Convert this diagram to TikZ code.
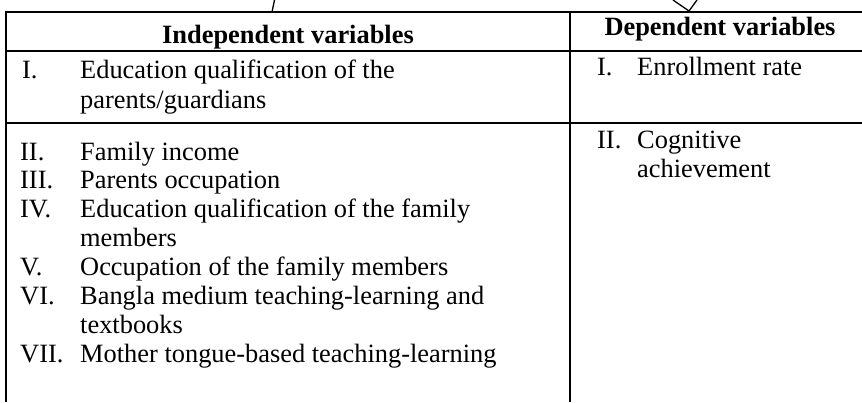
\documentclass[tikz,border=0pt]{standalone}
\usepackage{fontspec}
\setmainfont{Liberation Serif}
\begin{document}
\begin{tikzpicture}[x=1pt,y=-1pt,
  rule/.style={line width=2pt},
  thin/.style={line width=1.3pt},
  hdr/.style={font=\fontsize{26.4}{30}\selectfont\bfseries, anchor=base, inner sep=0pt},
  num/.style={font=\fontsize{26.4}{30}\selectfont, anchor=base west, inner sep=0pt},
  txt/.style={font=\fontsize{26.4}{30}\selectfont, anchor=base west, inner sep=0pt}]
\useasboundingbox (0,0) rectangle (862,402);
% table rules
\coordinate (tl) at (6,12);
\coordinate (tr) at (862,12);
\coordinate (hr) at (862,51);
\coordinate (rr) at (862,123);
\coordinate (bl) at (6,402);
\coordinate (mt) at (570,12);
\coordinate (mb) at (570,402);
\draw[rule] (5,12) -- (tr);
\draw[rule] (5,51) -- (hr);
\draw[rule] (5,123) -- (rr);
\draw[rule] (tl) -- (bl);
\draw[rule] (mt) -- (mb);
% headers
\node[hdr] (h1) at (288,43) {Independent variables};
\node[hdr] (h2) at (720,35) {Dependent variables};
% row 1 left
\node[num] (n1) at (22,78) {I.};
\node[txt] (t1) at (80,78) {Education qualification of the};
\node[txt] (t1b) at (80,108) {parents/guardians};
% row 1 right
\node[num] (d1) at (597,75) {I.};
\node[txt] (e1) at (637,75) {Enrollment rate};
% row 2 left
\node[num] (n2) at (20,160) {II.};
\node[txt] (t2) at (80,160) {Family income};
\node[num] (n3) at (20,188.9) {III.};
\node[txt] (t3) at (80,188.9) {Parents occupation};
\node[num] (n4) at (20,217.8) {IV.};
\node[txt] (t4) at (80,217.8) {Education qualification of the family};
\node[txt] (t4b) at (80,246.7) {members};
\node[num] (n5) at (20,275.6) {V.};
\node[txt] (t5) at (80,275.6) {Occupation of the family members};
\node[num] (n6) at (20,304.5) {VI.};
\node[txt] (t6) at (80,304.5) {Bangla medium teaching-learning and};
\node[txt] (t6b) at (80,333.4) {textbooks};
\node[num] (n7) at (20,362.3) {VII.};
\node[txt] (t7) at (80,362.3) {Mother tongue-based teaching-learning};
% row 2 right
\node[num] (d2) at (597,148) {II.};
\node[txt] (e2) at (637,148) {Cognitive};
\node[txt] (e2b) at (637,177) {achievement};
% cut-off connector and arrowhead at top
\coordinate (c0) at (274.5,0);
\coordinate (c1) at (272,12);
\draw[thin] (c0) -- (c1);
\coordinate (a0) at (673,0);
\coordinate (at) at (689,11);
\coordinate (a1) at (697,0);
\draw[thin] (a0) -- (at) -- (a1);
\end{tikzpicture}
\end{document}
